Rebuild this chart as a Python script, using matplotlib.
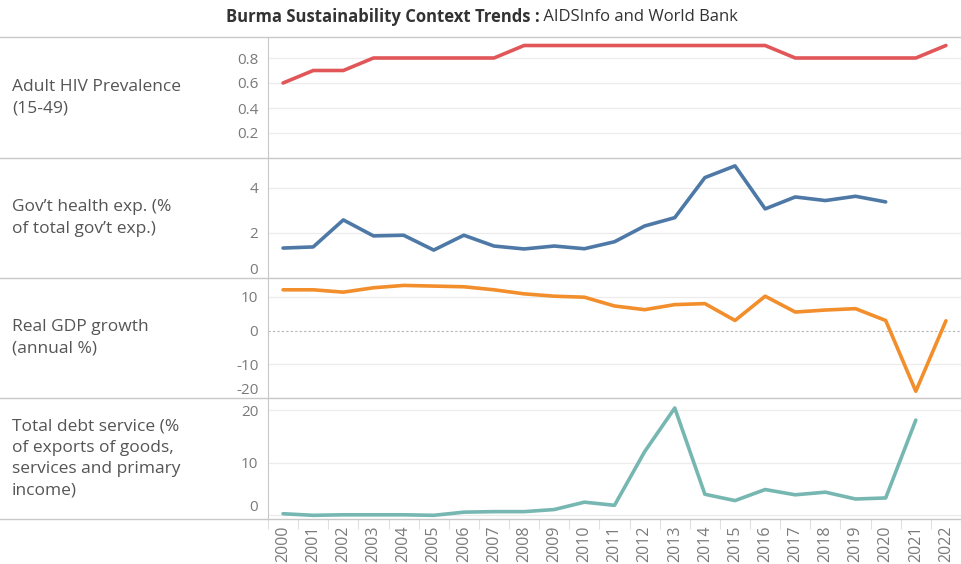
import numpy as np
import matplotlib
matplotlib.use("Agg")
import matplotlib.pyplot as plt
from matplotlib.lines import Line2D

plt.rcParams["font.family"] = ["Open Sans", "DejaVu Sans"]

years = list(range(2000, 2023))
nan = np.nan

hiv_prev = [0.6, 0.7, 0.7, 0.8, 0.8, 0.8, 0.8, 0.8, 0.9, 0.9, 0.9, 0.9,
            0.9, 0.9, 0.9, 0.9, 0.9, 0.8, 0.8, 0.8, 0.8, 0.8, 0.9]
health_exp = [1.33, 1.38, 2.58, 1.87, 1.9, 1.24, 1.9, 1.42, 1.29, 1.42, 1.3,
              1.61, 2.31, 2.68, 4.46, 4.98, 3.07, 3.6, 3.44, 3.63, 3.38, nan, nan]
gdp_growth = [12.1, 12.1, 11.4, 12.7, 13.4, 13.2, 13.0, 12.1, 10.9, 10.2, 9.9,
              7.3, 6.2, 7.7, 8.0, 3.0, 10.2, 5.5, 6.1, 6.5, 3.0, -18.0, 2.9]
debt_service = [0.3, 0.0, 0.1, 0.1, 0.1, 0.0, 0.6, 0.7, 0.7, 1.1, 2.5,
                1.9, 12.1, 20.4, 4.0, 2.8, 4.9, 3.9, 4.4, 3.1, 3.3, 18.1, nan]

row_labels = ["Adult HIV Prevalence\n(15-49)",
              "Gov\u2019t health exp. (%\nof total gov\u2019t exp.)",
              "Real GDP growth\n(annual %)",
              "Total debt service (%\nof exports of goods,\nservices and primary\nincome)"]
series = [hiv_prev, health_exp, gdp_growth, debt_service]
colors = ["#e15759", "#4e79a7", "#f28e2b", "#76b7b2"]
ylims = [(0, 0.968), (0, 5.33), (-20, 15.6), (-0.7, 22.3)]
yticks = [[0.2, 0.4, 0.6, 0.8], [0, 2, 4], [-20, -10, 0, 10], [0, 10, 20]]
ytick_labels = [["0.2", "0.4", "0.6", "0.8"], ["0", "2", "4"],
                ["-20", "-10", "0", "10"], ["0", "10", "20"]]

W, H = 962, 564
fig = plt.figure(figsize=(W / 100, H / 100), dpi=100)

bounds = [37, 158, 278, 398, 519]   # panel edges, pixels from top
x0, x1 = 268, 961
grid_c, sep_c, tick_c, lab_c = "#ececec", "#c8c8c8", "#7a7a7a", "#555555"

for i in range(4):
    top, bot = bounds[i], bounds[i + 1]
    ax = fig.add_axes([x0 / W, 1 - bot / H, (x1 - x0) / W, (bot - top) / H])
    ax.plot(years, series[i], color=colors[i], lw=2.6, solid_joinstyle="round",
            solid_capstyle="round", zorder=3)
    ax.set_xlim(1999.5, 2022.5)
    ax.set_ylim(*ylims[i])
    ax.set_yticks(yticks[i])
    ax.set_yticklabels(ytick_labels[i])
    for t in yticks[i]:
        if i == 2 and t == 0:
            continue
        ax.axhline(t, color=grid_c, lw=0.9, zorder=1)
    if i == 2:
        ax.axhline(0, color="#b5b5b5", lw=0.8, ls=(0, (2, 2)), zorder=2)
    ax.tick_params(axis="y", length=0, pad=7, labelsize=11, labelcolor=tick_c)
    # labels on the lower edge sit inside the panel, as in the original
    for lbl, t in zip(ax.get_yticklabels(), yticks[i]):
        if t == ylims[i][0] or (i == 3 and t == 0):
            lbl.set_va("bottom")
    for s in ["top", "right", "bottom"]:
        ax.spines[s].set_visible(False)
    ax.spines["left"].set_color(sep_c)
    ax.set_facecolor("none")
    if i < 3:
        ax.set_xticks([])
    else:
        ax.set_xticks(years)
        ax.set_xticklabels([str(y) for y in years], rotation=90)
        ax.tick_params(axis="x", length=0, pad=5, labelsize=11.5, labelcolor=tick_c)
        ax.set_xticks(np.arange(1999.5, 2023, 1), minor=True)
        ax.tick_params(axis="x", which="minor", length=7, color="#e0e0e0", width=0.8)
    fig.text(12 / W, 1 - (top + bot) / 2 / H, row_labels[i], ha="left", va="center",
             fontsize=12.5, color=lab_c, linespacing=1.45)

for y in bounds:
    fig.add_artist(Line2D([0, 1], [1 - y / H] * 2, color=sep_c, lw=1.0))

# title: bold part + regular part, centred together
t1 = fig.text(0, 1 - 17 / H, "Burma Sustainability Context Trends :", fontsize=12,
              fontweight="bold", color="#333333", va="center")
t2 = fig.text(0, 1 - 17 / H, " AIDSInfo and World Bank", fontsize=12,
              color="#333333", va="center")
fig.canvas.draw()
r = fig.canvas.get_renderer()
w1 = t1.get_window_extent(r).width
w2 = t2.get_window_extent(r).width
start = 482 - (w1 + w2) / 2
t1.set_x(start / W)
t2.set_x((start + w1) / W)

fig.savefig("out.png", dpi=100)
